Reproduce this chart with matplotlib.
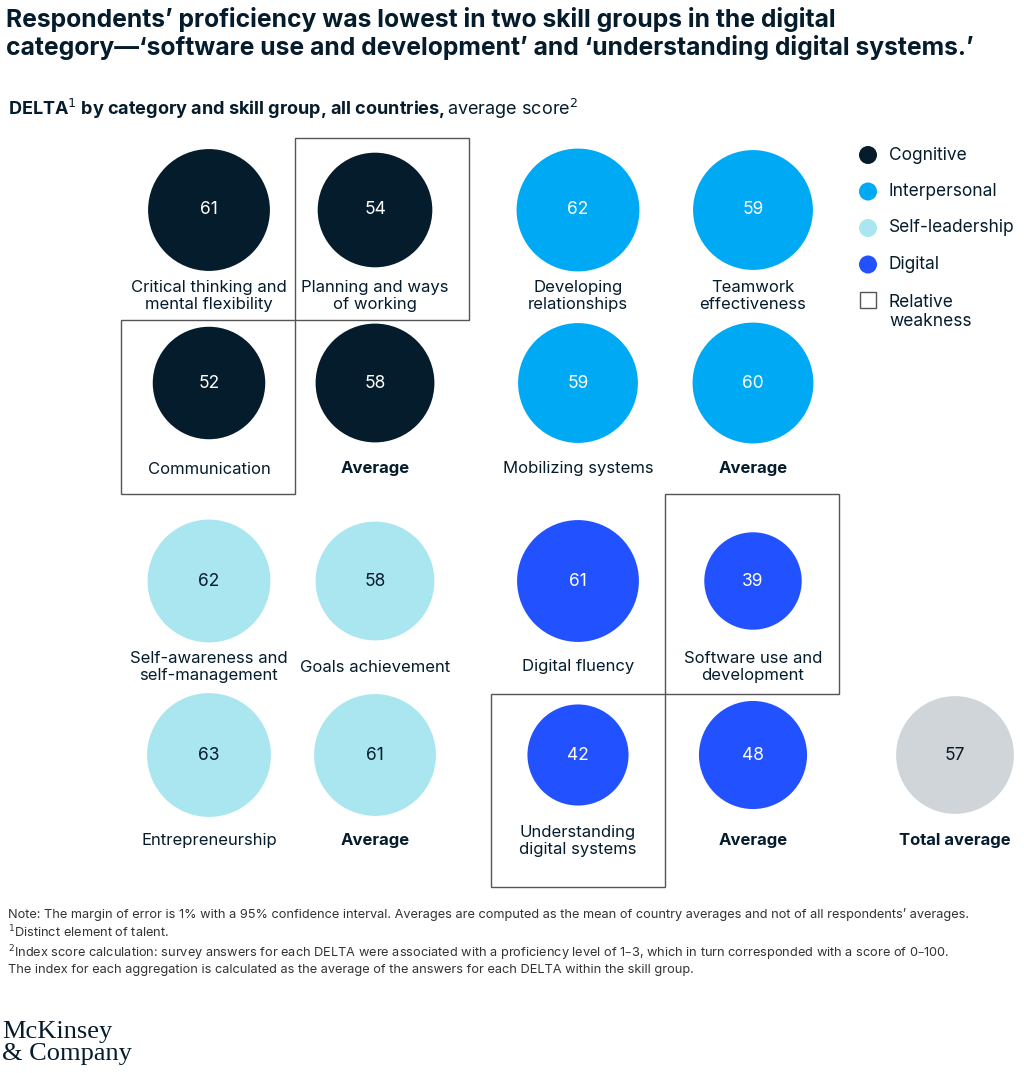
import numpy as np
import matplotlib.pyplot as plt
from matplotlib.patches import Circle, Rectangle

plt.rcParams['font.family'] = ['Inter', 'DejaVu Sans']

categories = ['Cognitive', 'Interpersonal', 'Self-leadership', 'Digital']
colors = {'Cognitive': '#051c2c', 'Interpersonal': '#00a9f4',
          'Self-leadership': '#aae6f0', 'Digital': '#2251ff', 'Total': '#d0d5d9'}
text_colors = {'Cognitive': 'white', 'Interpersonal': 'white',
               'Self-leadership': '#051c2c', 'Digital': 'white', 'Total': '#051c2c'}

cognitive_labels = ['Critical thinking and\nmental flexibility', 'Planning and ways\nof working', 'Communication', 'Average']
cognitive_values = [61, 54, 52, 58]
interpersonal_labels = ['Developing\nrelationships', 'Teamwork\neffectiveness', 'Mobilizing systems', 'Average']
interpersonal_values = [62, 59, 59, 60]
selflead_labels = ['Self-awareness and\nself-management', 'Goals achievement', 'Entrepreneurship', 'Average']
selflead_values = [62, 58, 63, 61]
digital_labels = ['Digital fluency', 'Software use and\ndevelopment', 'Understanding\ndigital systems', 'Average']
digital_values = [61, 39, 42, 48]
total_label = 'Total average'
total_value = 57
weak = {('Cognitive', 1), ('Cognitive', 2), ('Digital', 1), ('Digital', 2)}

fig = plt.figure(figsize=(10.24, 10.73), dpi=100)
ax = fig.add_axes([0, 0, 1, 1])
ax.set_xlim(0, 1024)
ax.set_ylim(1073, 0)
ax.axis('off')

col_x = [209, 375, 578, 753, 955]
row_y = [210, 383, 581, 755]
box_x = {'Cognitive': [121, 295, 469], 'Digital': [491, 665, 839]}
box_y = {'Cognitive': [138, 320, 494], 'Digital': [494, 694, 887]}
groups = [('Cognitive', cognitive_labels, cognitive_values, 0, 0),
          ('Interpersonal', interpersonal_labels, interpersonal_values, 2, 0),
          ('Self-leadership', selflead_labels, selflead_values, 0, 2),
          ('Digital', digital_labels, digital_values, 2, 2)]

def bubble(x, y, v, cat, label, bold=False):
    r = 7.8 * np.sqrt(v)
    ax.add_patch(Circle((x, y), r, color=colors[cat], lw=0))
    ax.text(x, y, str(v), ha='center', va='center', fontsize=12.5, color=text_colors[cat])
    ax.text(x, y + 86, label, ha='center', va='center',
            fontsize=12, color='#051c2c', fontweight='bold' if bold else 'normal',
            linespacing=1.2)

for cat, labels, values, c0, r0 in groups:
    for i, (lab, val) in enumerate(zip(labels, values)):
        x = col_x[c0 + i % 2]
        y = row_y[r0 + i // 2]
        bubble(x, y, val, cat, lab, bold=(lab == 'Average'))
        if (cat, i) in weak:
            bx, by = box_x[cat], box_y[cat]
            c, r = i % 2, i // 2
            ax.add_patch(Rectangle((bx[c], by[r]), bx[c + 1] - bx[c], by[r + 1] - by[r],
                                   fill=False, ec='#555555', lw=1))
bubble(col_x[4], row_y[3], total_value, 'Total', total_label, bold=True)

# legend
for i, cat in enumerate(categories):
    ax.add_patch(Circle((868, 155 + i * 36.5), 9, color=colors[cat], lw=0))
    ax.text(889, 155 + i * 36.5, cat, va='center', fontsize=12.5, color='#051c2c')
ax.add_patch(Rectangle((860, 292), 16, 16, fill=False, ec='#555555', lw=1))
ax.text(889, 312, 'Relative\nweakness', va='center', fontsize=12.5, color='#051c2c', linespacing=1.2)

ax.text(6, 33, "Respondents\u2019 proficiency was lowest in two skill groups in the digital\n"
        "category\u2014\u2018software use and development\u2019 and \u2018understanding digital systems.\u2019",
        va='center', fontsize=17.8, fontweight='bold', color='#051c2c', linespacing=1.15)
t = ax.text(8, 109, r"DELTA$^{1}$ by category and skill group, all countries, ", va='center',
            fontsize=13, fontweight='bold', color='#051c2c')
ax.annotate(r"average score$^{2}$", xycoords=t, xy=(1, 0.5), va='center',
            fontsize=13, color='#051c2c')

notes = ("Note: The margin of error is 1% with a 95% confidence interval. Averages are computed as the mean of country averages and not of all respondents\u2019 averages.\n"
         "$^1$Distinct element of talent.\n"
         "$^2$Index score calculation: survey answers for each DELTA were associated with a proficiency level of 1\u20133, which in turn corresponded with a score of 0\u2013100.\n"
         "The index for each aggregation is calculated as the average of the answers for each DELTA within the skill group.")
ax.text(8, 908, notes, va='top', fontsize=9.2, color='#333333', linespacing=1.2)

ax.text(2, 1043, "McKinsey\n& Company", va='center', fontsize=19, family='Liberation Serif',
        color='#051c2c', linespacing=1.0)

fig.savefig('out.png', dpi=100)
